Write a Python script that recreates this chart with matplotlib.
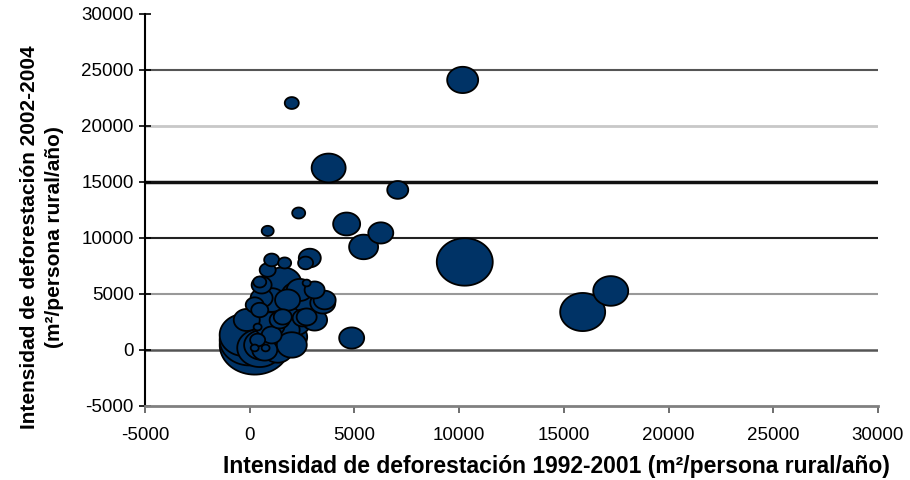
import matplotlib
matplotlib.use('Agg')
import matplotlib.pyplot as plt
import numpy as np
from matplotlib.path import Path

plt.rcParams['font.family'] = ['Liberation Sans', 'DejaVu Sans']

# deforestation intensity 1992-2001 (x), 2002-2004 (y), bubble size
x_1992_2001 = [10170, 2010, 3770, 7070, 2340, 4630, 860, 6260, 5440, 10270,
               15900, 17240, 4870, 3580, 1050, 1670, 2870, 2670, 2720, 1580,
               480, 3490, 2720, 1810, 1430, 2720, 480, 380, 1580, 2530,
               1050, 1910, 240, 0, -240, 480, 570, 720, 240, 760, 380, 960,
               2150, 1050, 2390, 570, -140, 2010, 1340, 3100, 860,
               2240, 3100, 570, 1670, 240]
y_2002_2004 = [24110, 22050, 16250, 14290, 12230, 11250, 10630, 10450, 9200, 7860,
               3390, 5270, 1070, 4460, 8040, 7770, 8210, 7770, 5980, 5980,
               6070, 4200, 4290, 4460, 2680, 2950, 3570, 2050, 2950, 2860,
               1340, 1160, 450, 890, 1340, 180, 450, 0, 180, 180, 890, 2230,
               2500, 4460, 5360, 4640, 2680, 450, 0, 5360, 7140,
               4910, 2680, 5800, 1790, 4020]
tamano = [961, 196, 1156, 441, 169, 729, 144, 625, 841, 3136,
          2025, 1225, 625, 484, 225, 169, 484, 225, 64, 1369,
          169, 625, 729, 625, 400, 400, 289, 64, 324, 400,
          400, 1225, 4900, 3600, 2500, 2025, 1225, 625, 64, 64, 225, 900,
          1024, 784, 676, 484, 676, 900, 900, 400, 256,
          900, 625, 400, 900, 324]

xticks = [-5000, 0, 5000, 10000, 15000, 20000, 25000, 30000]
yticks = [-5000, 0, 5000, 10000, 15000, 20000, 25000, 30000]

# slightly wide ellipse like the stretched original
t = np.linspace(0, 2 * np.pi, 80)
ellipse = Path(np.column_stack([1.18 * np.cos(t), np.sin(t)]), closed=True)

fig = plt.figure(figsize=(9.1, 4.8), dpi=100)
ax = fig.add_axes([0.1593, 0.1542, 0.8055, 0.8167])

# gridlines had uneven shades in the original
grid_style = {0: ('#555555', 1.8), 5000: ('#999999', 1.5), 10000: ('#222222', 1.5),
              15000: ('#111111', 2.5), 20000: ('#c8c8c8', 2.0), 25000: ('#555555', 1.5)}
for yv, (c, lw) in grid_style.items():
    ax.axhline(yv, color=c, lw=lw, zorder=1)

order = np.argsort(tamano, kind='stable')[::-1]
xs = np.array(x_1992_2001)[order]
ys = np.array(y_2002_2004)[order]
ss = np.array(tamano)[order] * 0.72 ** 2
ax.scatter(xs, ys, s=ss, marker=ellipse, color='#003366', edgecolor='black',
           linewidth=1.3, zorder=3)

ax.set_xlim(-5000, 30000)
ax.set_ylim(-5000, 30000)
ax.set_xticks(xticks)
ax.set_yticks(yticks)
ax.set_xticklabels([str(v) for v in xticks])
ax.set_yticklabels([str(v) for v in yticks])
ax.spines['top'].set_visible(False)
ax.spines['right'].set_visible(False)
ax.spines['left'].set_linewidth(1.5)
ax.spines['bottom'].set_color('#808080')
ax.spines['bottom'].set_linewidth(2)
ax.tick_params(axis='y', direction='inout', length=8, width=1.2, labelsize=13.5, pad=4)
ax.tick_params(axis='x', direction='out', length=5, width=1.2, color='#555555',
               labelsize=13.5, pad=10)

ax.set_xlabel('Intensidad de deforestación 1992-2001 (m²/persona rural/año)',
              fontsize=16.5, fontweight='bold')
ax.xaxis.set_label_coords(0.562, -0.125)
ax.set_ylabel('Intensidad de deforestación 2002-2004\n(m²/persona rural/año)',
              fontsize=15, fontweight='bold', linespacing=1.4)
ax.yaxis.set_label_coords(-0.11, 0.43)

plt.savefig('out.png', dpi=100)
